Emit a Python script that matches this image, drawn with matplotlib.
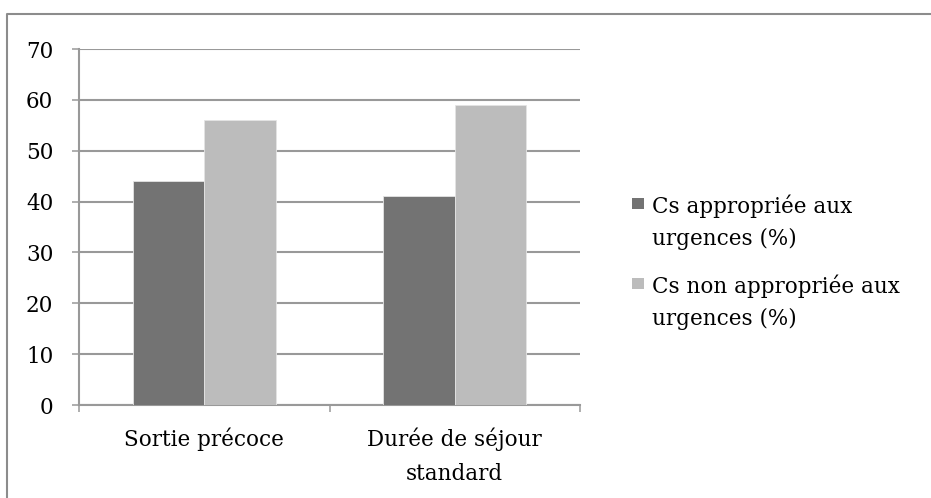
import matplotlib
matplotlib.use("Agg")
import matplotlib.pyplot as plt
from matplotlib.patches import Rectangle
from matplotlib.lines import Line2D
import numpy as np

categories = ["Sortie précoce", "Durée de séjour\nstandard"]
series_names = ["Cs appropriée aux\nurgences (%)", "Cs non appropriée aux\nurgences (%)"]
appropriee = [44, 41]
non_appropriee = [56, 59]
yticks = [0, 10, 20, 30, 40, 50, 60, 70]

colors = ["#737373", "#bcbcbc"]
plt.rcParams['font.family'] = ['DejaVu Serif']
fs = 15.5
W, H = 931, 498

fig = plt.figure(figsize=(9.31, 4.98), dpi=100)
# outer frame: top and left edges only (cropped screenshot)
fig.lines.append(Line2D([7/W, 7/W, 1.0], [0.0, 1 - 14/H, 1 - 14/H], transform=fig.transFigure,
                        color="#8c8c8c", linewidth=1.5))
ax = fig.add_axes([79/W, 1 - 405/H, 501/W, 356/H])

x = np.arange(len(categories))
w = 0.285
for i, vals in enumerate([appropriee, non_appropriee]):
    ax.bar(x - w/2 + i*w, vals, width=w, color=colors[i], edgecolor="#e4e4e4", linewidth=0.6,
           label=series_names[i], zorder=3)

gc = "#999999"
ax.set_xlim(-0.5, len(categories) - 0.5)
ax.set_ylim(0, 70)
ax.set_yticks(yticks)
ax.set_yticklabels([str(t) for t in yticks], fontsize=fs)
ax.yaxis.grid(True, color=gc, linewidth=1.5, zorder=0)
ax.set_axisbelow(True)
ax.set_xticks(x)
ax.set_xticklabels(categories, fontsize=fs, linespacing=1.75)
ax.tick_params(axis='x', length=0, pad=16)
ax.set_xticks([-0.5, 0.5, 1.5], minor=True)
ax.tick_params(axis='x', which='minor', length=5, width=1.1, color=gc)
ax.tick_params(axis='y', length=5, width=1.1, color=gc, pad=13.5)
for s in ["top", "right"]:
    ax.spines[s].set_visible(False)
for s in ["left", "bottom"]:
    ax.spines[s].set_color(gc)
    ax.spines[s].set_linewidth(1.5)

# legend (manual placement to match reference layout)
leg_top = [198, 278]
leg_last_base = [245, 325]
for i in range(2):
    fig.patches.append(Rectangle((632/W, 1 - (leg_top[i] + 11)/H), 12/W, 11/H,
                                 transform=fig.transFigure, facecolor=colors[i],
                                 edgecolor="none"))
    fig.text(652/W, 1 - leg_last_base[i]/H, series_names[i], fontsize=fs, va="baseline",
             ha="left", linespacing=1.6)

fig.savefig("out.png", dpi=100)
